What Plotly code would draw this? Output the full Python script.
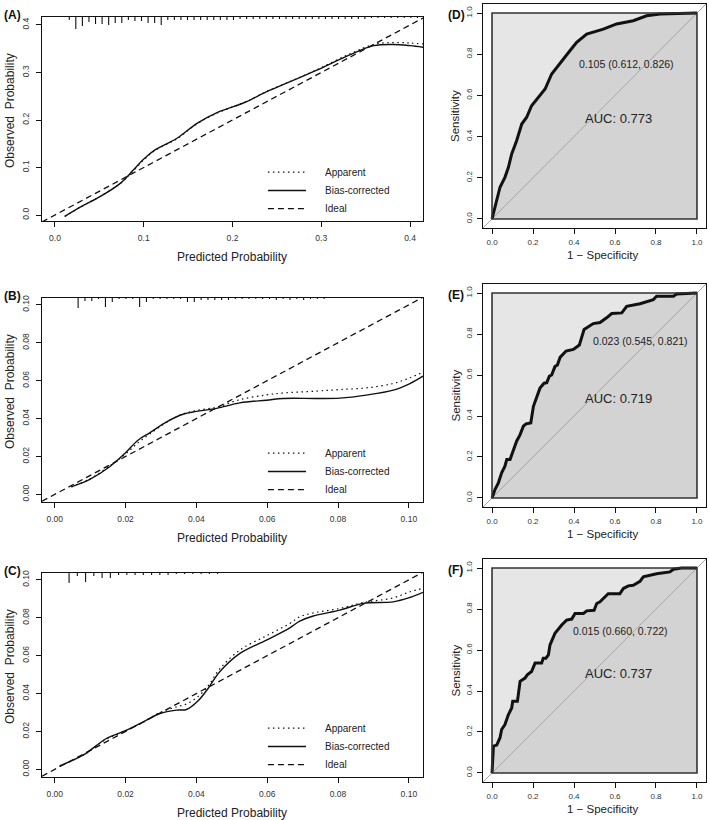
import plotly.graph_objects as go

# ---------------- DATA ----------------
# Calibration (A)
A_pred = [0.011, 0.030, 0.0507, 0.0732, 0.0883, 0.0995, 0.1127, 0.137, 0.160, 0.182, 0.201, 0.216, 0.2385, 0.265, 0.295, 0.332, 0.359, 0.381, 0.400, 0.415]
A_bias = [-0.003, 0.018, 0.0386, 0.066, 0.0947, 0.117, 0.137, 0.161, 0.193, 0.215, 0.228, 0.2386, 0.2596, 0.2807, 0.305, 0.337, 0.3565, 0.359, 0.3565, 0.353]
A_app = [-0.003, 0.018, 0.0390, 0.066, 0.0930, 0.115, 0.136, 0.160, 0.192, 0.214, 0.228, 0.2390, 0.2600, 0.2810, 0.306, 0.339, 0.3590, 0.363, 0.3620, 0.360]
A_rug_start, A_rug_step = 0.0161, 0.0074
A_rug_freq = [3, 12, 9, 5, 7, 7, 8, 6, 6, 3, 4, 4, 6, 6, 8, 3, 3, 3, 3, 3, 3, 3, 3, 3, 3, 3,
              2, 2, 2, 2, 2, 2, 2, 2, 2, 2, 2, 2, 2, 2, 2, 2, 2, 2, 2, 2,
              1, 1, 1, 1, 1, 1, 1, 1]

# Calibration (B)
B_pred = [0.0047, 0.0099, 0.0155, 0.0198, 0.0235, 0.0268, 0.0316, 0.0362, 0.040, 0.0457, 0.0523, 0.0598, 0.0645, 0.0739, 0.0805, 0.088, 0.0956, 0.1003, 0.104]
B_bias = [0.004, 0.0079, 0.0146, 0.0216, 0.0286, 0.0325, 0.0383, 0.0423, 0.0438, 0.0454, 0.0483, 0.0497, 0.0506, 0.0506, 0.0508, 0.0524, 0.055, 0.0585, 0.0624]
B_app = [0.004, 0.0082, 0.0150, 0.0210, 0.0272, 0.0318, 0.0380, 0.0425, 0.0443, 0.0460, 0.0500, 0.0525, 0.0535, 0.0545, 0.0553, 0.0562, 0.0585, 0.0615, 0.0645]
B_rug_start, B_rug_step = 0.0066, 0.00193
B_rug_freq = [10, 3, 3, 1, 9, 4, 1, 1, 1, 9, 4, 1, 1, 1, 1, 1, 4, 4, 2, 2, 2, 2, 2,
              1, 1, 1, 1, 1, 1, 2, 1, 2, 1, 2, 1, 1, 1]

# Calibration (C)
C_pred = [0.0014, 0.008, 0.0146, 0.0203, 0.025, 0.0297, 0.0344, 0.0372, 0.0405, 0.0433, 0.0466, 0.0523, 0.0598, 0.0664, 0.0692, 0.073, 0.0805, 0.0871, 0.0956, 0.1003, 0.104]
C_bias = [0.0019, 0.0075, 0.0163, 0.0207, 0.0251, 0.0295, 0.0313, 0.0316, 0.0362, 0.0427, 0.0515, 0.0612, 0.0682, 0.0747, 0.0782, 0.0809, 0.084, 0.0876, 0.0884, 0.0907, 0.0934]
C_app = [0.0019, 0.0075, 0.0160, 0.0205, 0.0250, 0.0300, 0.0330, 0.0345, 0.0385, 0.0440, 0.0530, 0.0630, 0.0705, 0.0770, 0.0805, 0.0825, 0.0849, 0.0880, 0.0905, 0.0937, 0.0955]
C_rug_start, C_rug_step = 0.00405, 0.00233
C_rug_freq = [10, 3, 9, 3, 5, 5, 2, 2, 2, 2, 2, 2, 2, 1, 1, 1, 1, 1, 1]

# ROC (D)
D_fpr = [0, 0.015, 0.039, 0.063, 0.080, 0.096, 0.120, 0.145, 0.169, 0.193, 0.226, 0.259, 0.291, 0.324, 0.356, 0.380, 0.413, 0.462, 0.543, 0.608, 0.689, 0.754, 0.820, 0.885, 1.0]
D_tpr = [0, 0.057, 0.154, 0.202, 0.251, 0.316, 0.380, 0.461, 0.494, 0.550, 0.591, 0.631, 0.704, 0.744, 0.785, 0.817, 0.858, 0.898, 0.922, 0.947, 0.963, 0.987, 0.995, 0.998, 1.0]
# ROC (E)
E_fpr = [0, 0.015, 0.031, 0.047, 0.063, 0.072, 0.088, 0.104, 0.120, 0.137, 0.153, 0.166, 0.189, 0.202, 0.218, 0.234, 0.254, 0.267, 0.280, 0.291, 0.307, 0.319, 0.332, 0.361, 0.397, 0.426, 0.449, 0.494, 0.527, 0.543, 0.559, 0.584, 0.633, 0.657, 0.722, 0.787, 0.803, 0.885, 0.901, 1.0]
E_tpr = [0, 0.042, 0.074, 0.123, 0.155, 0.188, 0.188, 0.228, 0.277, 0.309, 0.350, 0.362, 0.366, 0.447, 0.487, 0.536, 0.560, 0.563, 0.595, 0.600, 0.641, 0.649, 0.686, 0.717, 0.725, 0.746, 0.822, 0.851, 0.856, 0.867, 0.879, 0.900, 0.903, 0.935, 0.948, 0.968, 0.984, 0.984, 0.995, 1.0]
# ROC (F)
F_fpr = [0, 0.007, 0.023, 0.039, 0.047, 0.063, 0.080, 0.096, 0.101, 0.124, 0.137, 0.161, 0.172, 0.193, 0.210, 0.242, 0.250, 0.263, 0.275, 0.283, 0.307, 0.324, 0.340, 0.364, 0.389, 0.405, 0.446, 0.462, 0.498, 0.511, 0.527, 0.543, 0.567, 0.624, 0.641, 0.665, 0.689, 0.722, 0.738, 0.803, 0.868, 0.885, 0.925, 1.0]
F_tpr = [0, 0.131, 0.136, 0.172, 0.212, 0.236, 0.285, 0.317, 0.350, 0.350, 0.447, 0.463, 0.479, 0.495, 0.536, 0.536, 0.560, 0.560, 0.576, 0.625, 0.681, 0.705, 0.722, 0.746, 0.751, 0.778, 0.778, 0.791, 0.794, 0.827, 0.835, 0.851, 0.875, 0.875, 0.900, 0.913, 0.916, 0.935, 0.957, 0.972, 0.981, 0.994, 1.0, 1.0]

ROC_thr_text = ["0.105 (0.612, 0.826)", "0.023 (0.545, 0.821)", "0.015 (0.660, 0.722)"]
ROC_auc_text = ["AUC: 0.773", "AUC: 0.719", "AUC: 0.737"]
panel_labels = ["(A)", "(B)", "(C)", "(D)", "(E)", "(F)"]
legend_names = ["Apparent", "Bias-corrected", "Ideal"]

# ---------------- LAYOUT HELPERS ----------------
W, H = 709, 820
FONT = "Liberation Sans, Arial, Helvetica, sans-serif"

def px_x(p):
    return p / W

def px_y(p):
    return 1 - p / H

fig = go.Figure()

cal_boxes = [(42, 423, 17, 221), (42, 423, 298, 502), (42, 423, 573, 777)]
roc_boxes = [(483, 706, 4, 228), (483, 706, 284, 507), (483, 706, 559, 782)]
cal_ranges = [(-0.0146, 0.4146, -0.0126, 0.4168), (-0.0036, 0.1040, -0.0040, 0.1036), (-0.0036, 0.1040, -0.0040, 0.1036)]
roc_range = (-0.044, 1.044)

cal_data = [
    (A_pred, A_bias, A_app, A_rug_start, A_rug_step, A_rug_freq, 0.1, ".1f"),
    (B_pred, B_bias, B_app, B_rug_start, B_rug_step, B_rug_freq, 0.02, ".2f"),
    (C_pred, C_bias, C_app, C_rug_start, C_rug_step, C_rug_freq, 0.02, ".2f"),
]

axis_common = dict(showline=True, mirror=True, linecolor="#111", linewidth=1.4,
                   ticks="outside", ticklen=5, tickwidth=1, tickcolor="#111",
                   showgrid=False, zeroline=False, fixedrange=True, automargin=False)

annotations = []
shapes = []

DOT = "1.5px,3.5px"
DASH = "6px,4px"

for i, (box, rng, dat) in enumerate(zip(cal_boxes, cal_ranges, cal_data)):
    n = i + 1
    xa = "x" if n == 1 else f"x{n}"
    ya = "y" if n == 1 else f"y{n}"
    x0p, x1p, y0p, y1p = box
    xmin, xmax, ymin, ymax = rng
    pred, bias, app, rs, rstep, rfreq, dt, fmt = dat
    fig.update_layout(**{
        ("xaxis" if n == 1 else f"xaxis{n}"): dict(axis_common, domain=[px_x(x0p), px_x(x1p)], range=[xmin, xmax],
                                                   anchor=ya, dtick=dt, tick0=0, tickformat=fmt,
                                                   tickfont=dict(size=8.5, color="#333", family=FONT),
                                                   ticklabelstandoff=4),
        ("yaxis" if n == 1 else f"yaxis{n}"): dict(axis_common, domain=[px_y(y1p), px_y(y0p)], range=[ymin, ymax],
                                                   anchor=xa, dtick=dt, tick0=0, tickformat=fmt, tickangle=-90,
                                                   tickfont=dict(size=8.5, color="#333", family=FONT),
                                                   ticklabelstandoff=3),
    })
    # ideal
    fig.add_trace(go.Scatter(x=[xmin, xmax], y=[xmin, xmax], mode="lines", xaxis=xa, yaxis=ya,
                             line=dict(color="#111", width=1.3, dash=DASH), showlegend=False, hoverinfo="skip"))
    # apparent
    fig.add_trace(go.Scatter(x=pred, y=app, mode="lines", xaxis=xa, yaxis=ya, line_shape="spline",
                             line=dict(color="#111", width=1.2, dash=DOT), showlegend=False, hoverinfo="skip"))
    # bias-corrected
    fig.add_trace(go.Scatter(x=pred, y=bias, mode="lines", xaxis=xa, yaxis=ya, line_shape="spline",
                             line=dict(color="#111", width=1.4), showlegend=False, hoverinfo="skip"))
    # rug spikes (frequency histogram at top)
    unit_per_px = (ymax - ymin) / (y1p - y0p)
    rx, ry = [], []
    for k, f in enumerate(rfreq):
        xv = rs + k * rstep
        rx += [xv, xv, None]
        ry += [ymax, ymax - f * unit_per_px, None]
    fig.add_trace(go.Scatter(x=rx, y=ry, mode="lines", xaxis=xa, yaxis=ya,
                             line=dict(color="#111", width=1.1), showlegend=False, hoverinfo="skip"))
    # legend (drawn inside the panel)
    styles = [dict(color="#111", width=1.2, dash=DOT), dict(color="#111", width=1.5), dict(color="#111", width=1.3, dash=DASH)]
    rows = [0.240, 0.150, 0.061]
    for name, st, ry_ in zip(legend_names, styles, rows):
        shapes.append(dict(type="line", xref=f"{xa} domain", yref=f"{ya} domain",
                           x0=0.593, x1=0.693, y0=ry_, y1=ry_, line=st))
        annotations.append(dict(text=name, xref=f"{xa} domain", yref=f"{ya} domain", x=0.738, y=ry_,
                                xanchor="left", yanchor="middle", showarrow=False,
                                font=dict(size=10, color="#222", family=FONT)))
    # axis titles
    annotations.append(dict(text="Predicted Probability", xref="paper", yref="paper",
                            x=px_x(232), y=px_y(y1p + 36), xanchor="center", yanchor="middle", showarrow=False,
                            font=dict(size=12, color="#222", family=FONT)))
    annotations.append(dict(text="Observed  Probability", xref="paper", yref="paper",
                            x=px_x(10), y=px_y((y0p + y1p) / 2 - 8), xanchor="center", yanchor="middle",
                            textangle=-90, showarrow=False,
                            font=dict(size=12, color="#222", family=FONT)))
    annotations.append(dict(text="<b>" + panel_labels[i] + "</b>", xref="paper", yref="paper",
                            x=px_x(2), y=px_y(y0p - 2), xanchor="left", yanchor="middle", showarrow=False,
                            font=dict(size=12, color="#111", family=FONT)))

roc_data = [(D_fpr, D_tpr), (E_fpr, E_tpr), (F_fpr, F_tpr)]
thr_pos = [(0.413, 0.751), (0.481, 0.767), (0.384, 0.693)]
for j, (box, (fpr, tpr)) in enumerate(zip(roc_boxes, roc_data)):
    n = j + 4
    xa, ya = f"x{n}", f"y{n}"
    x0p, x1p, y0p, y1p = box
    lo, hi = roc_range
    fig.update_layout(**{
        f"xaxis{n}": dict(axis_common, domain=[px_x(x0p), px_x(x1p)], range=[lo, hi], anchor=ya,
                          dtick=0.2, tick0=0, tickformat=".1f",
                          tickfont=dict(size=8, color="#333", family=FONT), ticklabelstandoff=1),
        f"yaxis{n}": dict(axis_common, domain=[px_y(y1p), px_y(y0p)], range=[lo, hi], anchor=xa,
                          dtick=0.2, tick0=0, tickformat=".1f", tickangle=-90,
                          tickfont=dict(size=8, color="#333", family=FONT), ticklabelstandoff=2),
    })
    # max AUC polygon (light) as background square
    shapes.append(dict(type="rect", xref=xa, yref=ya, x0=0, x1=1, y0=0, y1=1, layer="below",
                       fillcolor="#E6E6E6", line=dict(width=0)))
    # AUC polygon
    fig.add_trace(go.Scatter(x=list(fpr) + [1, 0], y=list(tpr) + [0, 0], mode="lines", fill="toself",
                             fillcolor="#D3D3D3", line=dict(width=0), xaxis=xa, yaxis=ya,
                             showlegend=False, hoverinfo="skip"))
    # border of the square
    shapes.append(dict(type="rect", xref=xa, yref=ya, x0=0, x1=1, y0=0, y1=1, layer="above",
                       fillcolor="rgba(0,0,0,0)", line=dict(color="#333", width=1.6)))
    # identity line
    fig.add_trace(go.Scatter(x=[lo, hi], y=[lo, hi], mode="lines", line=dict(color="#A5A5A5", width=1),
                             xaxis=xa, yaxis=ya, showlegend=False, hoverinfo="skip"))
    # ROC curve
    fig.add_trace(go.Scatter(x=fpr, y=tpr, mode="lines", line=dict(color="#111", width=3),
                             xaxis=xa, yaxis=ya, showlegend=False, hoverinfo="skip"))
    annotations.append(dict(text=ROC_thr_text[j], xref=xa, yref=ya, x=thr_pos[j][0], y=thr_pos[j][1],
                            xanchor="left", yanchor="middle", showarrow=False,
                            font=dict(size=10.5, color="#222", family=FONT)))
    annotations.append(dict(text=ROC_auc_text[j], xref=xa, yref=ya, x=0.442, y=0.486,
                            xanchor="left", yanchor="middle", showarrow=False,
                            font=dict(size=13, color="#222", family=FONT)))
    annotations.append(dict(text="1 \u2212 Specificity", xref="paper", yref="paper",
                            x=px_x(603), y=px_y(y1p + 27), xanchor="center", yanchor="middle", showarrow=False,
                            font=dict(size=11.5, color="#222", family=FONT)))
    annotations.append(dict(text="Sensitivity", xref="paper", yref="paper",
                            x=px_x(455), y=px_y((y0p + y1p) / 2), xanchor="center", yanchor="middle",
                            textangle=-90, showarrow=False,
                            font=dict(size=11.5, color="#222", family=FONT)))
    annotations.append(dict(text="<b>" + panel_labels[j + 3] + "</b>", xref="paper", yref="paper",
                            x=px_x(446), y=px_y(y0p + 11), xanchor="left", yanchor="middle", showarrow=False,
                            font=dict(size=12, color="#111", family=FONT)))

fig.update_layout(template="none", width=W, height=H, margin=dict(l=0, r=0, t=0, b=0, pad=0, autoexpand=False),
                  paper_bgcolor="white", plot_bgcolor="white", showlegend=False,
                  annotations=annotations, shapes=shapes, font=dict(family=FONT))

# the browser page has a default 8px body margin; remove it so the figure fills the window exactly
fig.write_html("out.html", config={"displayModeBar": False},
               post_script="document.body.style.margin='0';document.body.style.overflow='hidden';")
